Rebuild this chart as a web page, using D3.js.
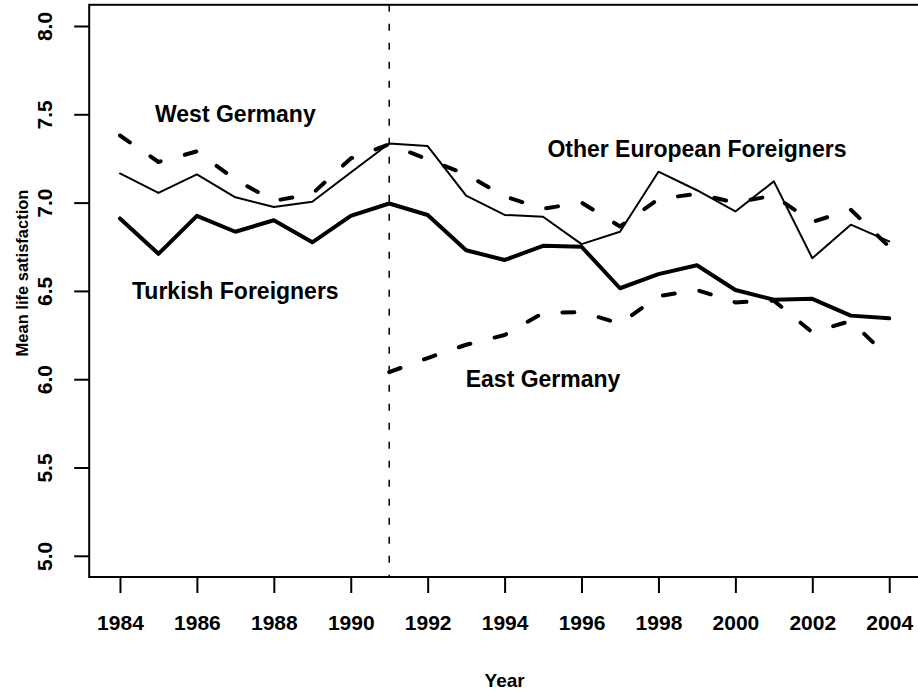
<!DOCTYPE html>
<html lang="en">
<head>
<meta charset="utf-8">
<script src="https://d3js.org/d3.v7.min.js"></script>
<style>
  body { margin: 0; background: #fff; }
  text { font-family: "Liberation Sans", Arial, Helvetica, sans-serif; font-weight: bold; fill: #000; }
</style>
</head>
<body>
<script>
// data
var years = [1984, 1985, 1986, 1987, 1988, 1989, 1990, 1991, 1992, 1993, 1994,
             1995, 1996, 1997, 1998, 1999, 2000, 2001, 2002, 2003, 2004];
var eastYears = [1991, 1992, 1993, 1994, 1995, 1996, 1997, 1998, 1999, 2000, 2001, 2002, 2003, 2004];

var westGermany = [7.38, 7.23, 7.29, 7.13, 7.01, 7.05, 7.25, 7.33, 7.245, 7.16, 7.035,
                   6.965, 7.0, 6.865, 7.02, 7.05, 7.0, 7.04, 6.89, 6.96, 6.75];
var otherEuropean = [7.165, 7.055, 7.16, 7.03, 6.975, 7.005, 7.17, 7.335, 7.32, 7.04, 6.93,
                     6.92, 6.765, 6.835, 7.175, 7.07, 6.95, 7.12, 6.685, 6.875, 6.78];
var turkish = [6.91, 6.71, 6.925, 6.835, 6.9, 6.775, 6.925, 6.995, 6.93, 6.73, 6.675,
               6.755, 6.75, 6.515, 6.595, 6.645, 6.505, 6.45, 6.455, 6.36, 6.345];
var eastGermany = [6.04, 6.12, 6.195, 6.25, 6.375, 6.38, 6.315, 6.47, 6.505, 6.435,
                   6.445, 6.265, 6.33, 6.12];

var xTicks = [1984, 1986, 1988, 1990, 1992, 1994, 1996, 1998, 2000, 2002, 2004];
var yTicks = [5.0, 5.5, 6.0, 6.5, 7.0, 7.5, 8.0];

var labelText = ["West Germany", "Other European Foreigners", "Turkish Foreigners", "East Germany"];
var labelX = [1987, 1999, 1987, 1995];
var labelY = [7.5, 7.3, 6.5, 6.0];

var width = 918, height = 694;

var x = d3.scaleLinear().domain([1983.2, 2004.8]).range([89.2, 920]);
var y = d3.scaleLinear().domain([4.88, 8.12]).range([577, 4.8]);

var svg = d3.select("body").append("svg")
    .attr("width", width)
    .attr("height", height);

// box
svg.append("rect")
    .attr("x", x(1983.2)).attr("y", y(8.12))
    .attr("width", x(2004.8) - x(1983.2))
    .attr("height", y(4.88) - y(8.12))
    .attr("fill", "none")
    .attr("stroke", "#000")
    .attr("stroke-width", 2);

// x axis
var xAxis = svg.append("g")
    .attr("transform", "translate(0," + y(4.88) + ")")
    .call(d3.axisBottom(x).tickValues(xTicks).tickFormat(d3.format("d")).tickSize(16).tickPadding(22));
xAxis.select(".domain").remove();
xAxis.selectAll("line").attr("stroke-width", 2);
xAxis.selectAll("text").attr("font-size", 21).attr("font-family", null);

// y axis
var yAxis = svg.append("g")
    .attr("transform", "translate(" + x(1983.2) + ",0)")
    .call(d3.axisLeft(y).tickValues(yTicks).tickFormat(d3.format(".1f")).tickSize(15));
yAxis.select(".domain").remove();
yAxis.selectAll("line").attr("stroke-width", 2);
yAxis.selectAll("text")
    .attr("x", null).attr("dy", null)
    .attr("transform", "translate(-37,0) rotate(-90)")
    .attr("text-anchor", "middle")
    .attr("font-size", 21)
    .attr("font-family", null);

// axis titles
svg.append("text")
    .attr("x", (x(1983.2) + x(2004.8)) / 2)
    .attr("y", 687)
    .attr("text-anchor", "middle")
    .attr("font-size", 19)
    .text("Year");

svg.append("text")
    .attr("transform", "translate(28,273) rotate(-90)")
    .attr("text-anchor", "middle")
    .attr("font-size", 16.5)
    .text("Mean life satisfaction");

// reunification line
svg.append("line")
    .attr("x1", x(1991)).attr("x2", x(1991))
    .attr("y1", y(8.12)).attr("y2", y(4.88))
    .attr("stroke", "#000")
    .attr("stroke-width", 1.5)
    .attr("stroke-dasharray", "7,12");

var line = d3.line()
    .x(function(d) { return x(d[0]); })
    .y(function(d) { return y(d[1]); });

function pairs(xs, vs) {
    return xs.map(function(v, i) { return [v, vs[i]]; });
}

var series = [
    { data: pairs(years, otherEuropean), w: 2, dash: null },
    { data: pairs(years, turkish), w: 4, dash: null },
    { data: pairs(years, westGermany), w: 4, dash: "12,25" },
    { data: pairs(eastYears, eastGermany), w: 4, dash: "12,25" }
];

svg.selectAll(".series")
    .data(series)
    .enter()
    .append("path")
    .attr("class", "series")
    .attr("d", function(d) { return line(d.data); })
    .attr("fill", "none")
    .attr("stroke", "#000")
    .attr("stroke-width", function(d) { return d.w; })
    .attr("stroke-linejoin", "round")
    .attr("stroke-linecap", "round")
    .attr("stroke-dasharray", function(d) { return d.dash; });

// series labels
svg.selectAll(".lab")
    .data(labelText)
    .enter()
    .append("text")
    .attr("class", "lab")
    .attr("x", function(d, i) { return x(labelX[i]); })
    .attr("y", function(d, i) { return y(labelY[i]); })
    .attr("dy", "0.34em")
    .attr("text-anchor", "middle")
    .attr("font-size", 23)
    .text(function(d) { return d; });
</script>
</body>
</html>
